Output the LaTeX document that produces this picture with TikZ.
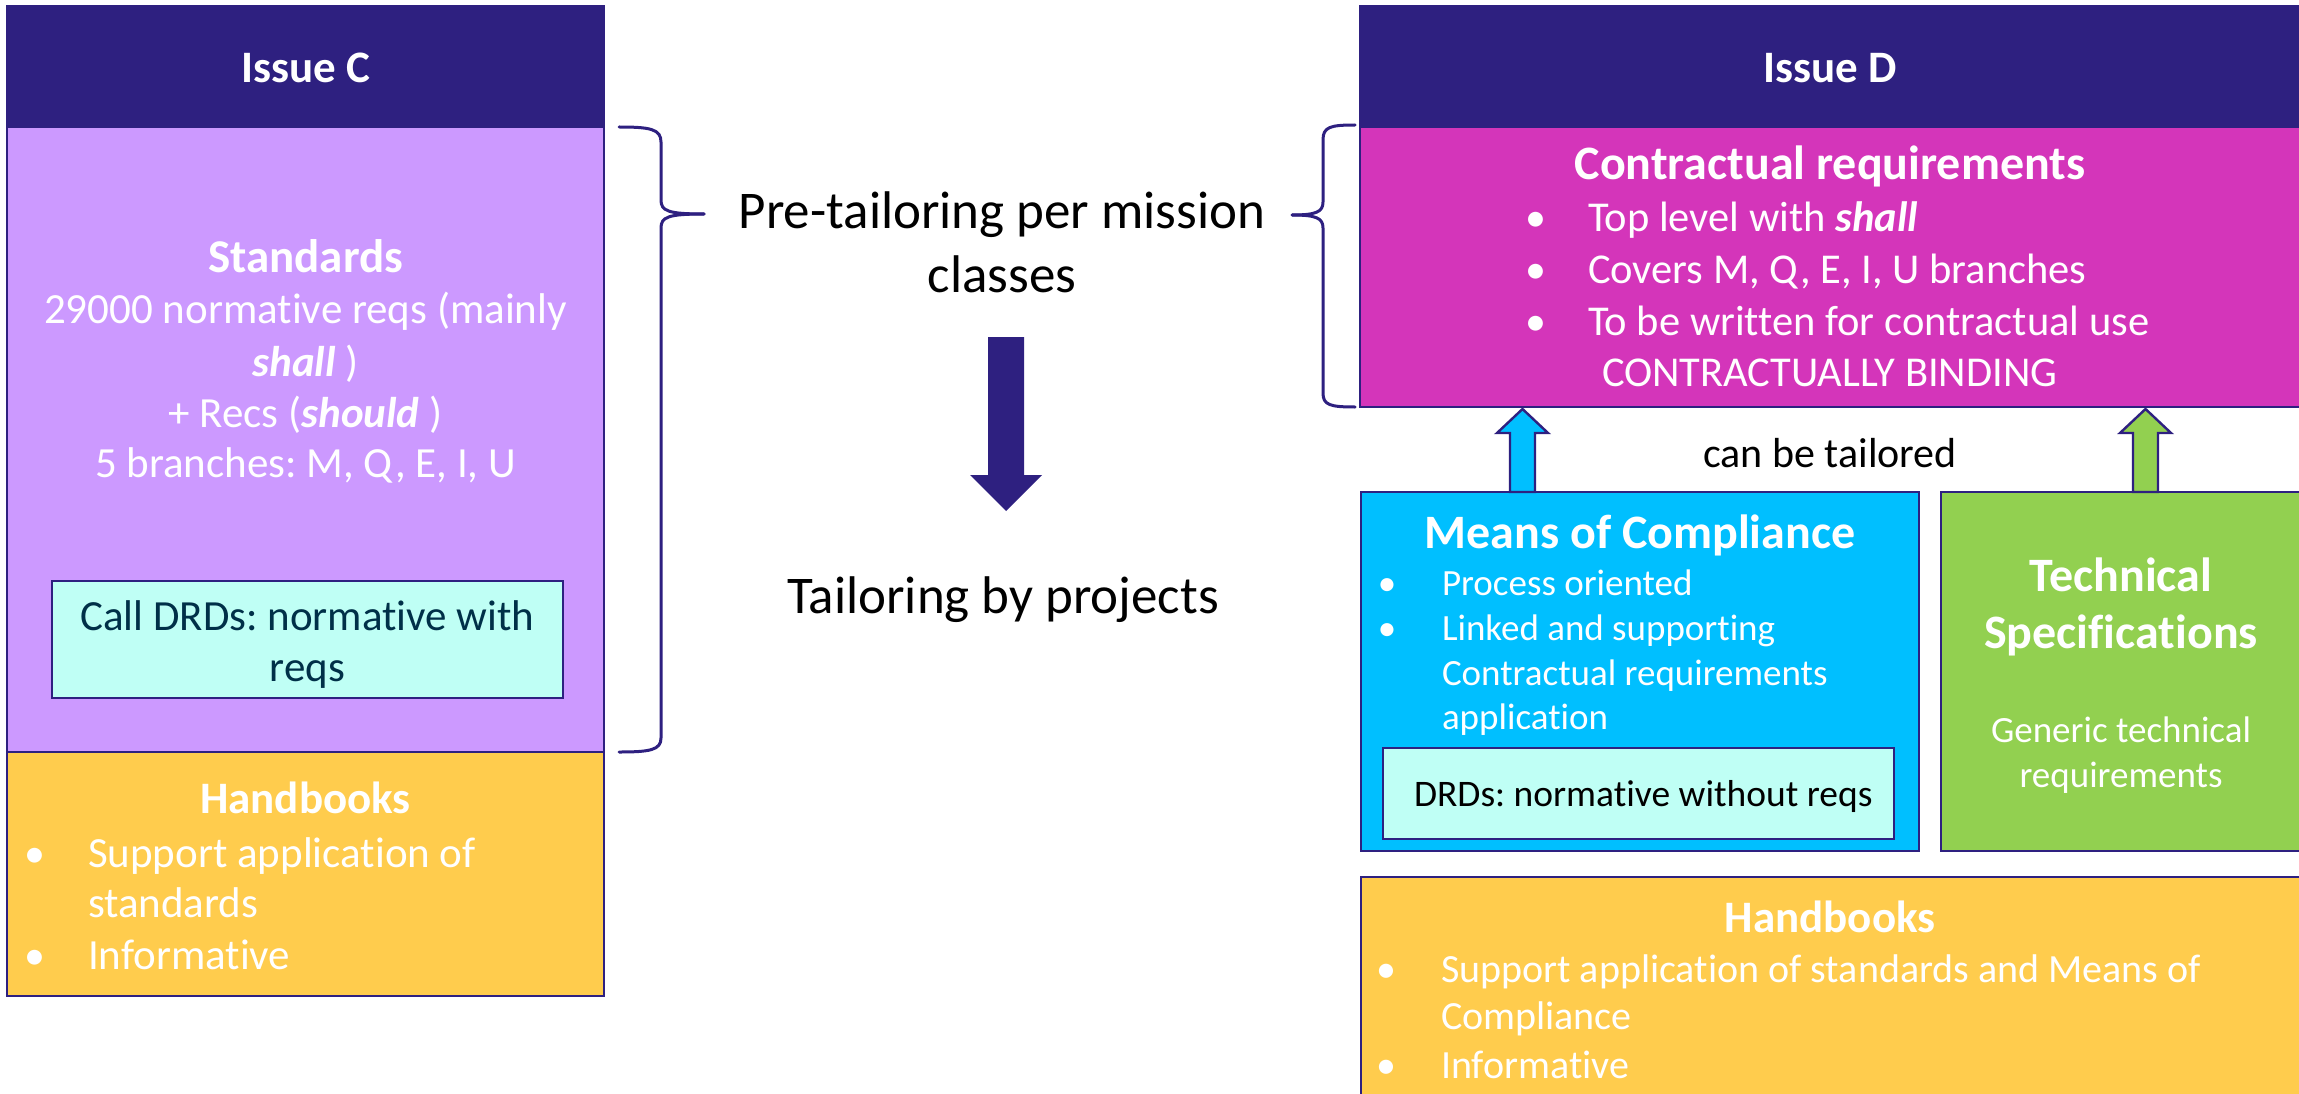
\documentclass[tikz,border=0pt]{standalone}
\usepackage{fontspec}
\setmainfont{Carlito}[Ligatures={NoCommon}]
\usetikzlibrary{calc}
\definecolor{cnavy}{RGB}{46,32,128}
\definecolor{cpurple}{RGB}{204,153,255}
\definecolor{cyellow}{RGB}{255,204,77}
\definecolor{ccyan}{RGB}{191,255,245}
\definecolor{cteal}{RGB}{0,48,72}
\definecolor{cmagenta}{RGB}{212,53,186}
\definecolor{cblue}{RGB}{0,191,255}
\definecolor{cgreen}{RGB}{146,208,80}
\newcommand\setfs[1]{\fontsize{#1}{#1}\selectfont}
\frenchspacing
\tikzset{
  box/.style={draw=cnavy, line width=2.6pt, inner sep=0pt, outer sep=0pt, anchor=north west},
  lbl/.style={inner sep=0pt, outer sep=0pt, anchor=base, text=white},
  lblw/.style={lbl, anchor=base west},
  ttl/.style={font=\bfseries\setfs{45}},
  bigttl/.style={font=\bfseries\setfs{47}},
  brace/.style={draw=cnavy, line width=3pt, line cap=round},
  blockarrow/.style={draw=cnavy, line width=2.4pt, line join=miter},
}
\begin{document}
\begin{tikzpicture}[x=1pt,y=-1pt]
\useasboundingbox (0,0) rectangle (2299,1094);
\clip (0,0) rectangle (2299,1094);
\fill[white] (0,0) rectangle (2299,1094);

% ---------- Issue C column ----------
\node[box, fill=cnavy, minimum width=597pt, minimum height=121pt] (hdrC) at (7,6) {};
\node[box, fill=cpurple, minimum width=597pt, minimum height=625pt] (stdC) at (7,127) {};
\node[box, fill=ccyan, minimum width=511pt, minimum height=117pt] (drdC) at (52,581) {};
\node[box, fill=cyellow, minimum width=597pt, minimum height=244pt] (hbC) at (7,752) {};

\node[lbl, ttl] (tC) at (305.5,83) {Issue C};
\node[lbl, bigttl] (tStd) at (305.5,272) {Standards};
\node[lbl, font=\setfs{43}] (s1) at (305.5,323) {29000 normative reqs (mainly};
\node[lbl, font=\setfs{43}] (s2) at (305.5,376) {\textbf{\textit{shall}} )};
\node[lbl, font=\setfs{43}] (s3) at (305.5,427) {+ Recs (\textbf{\textit{should}} )};
\node[lbl, font=\setfs{43}] (s4) at (305.5,477) {5 branches: M, Q, E, I, U};
\node[lbl, text=cteal, font=\setfs{43}] (c1) at (307.5,630) {Call DRDs: normative with};
\node[lbl, text=cteal, font=\setfs{43}] (c2) at (307.5,681) {reqs};
\node[lbl, ttl] (hC) at (305.5,813) {Handbooks};
\node[lbl, font=\setfs{42}] (hCb1) at (35,867) {•};
\node[lblw, font=\setfs{43}] (hCt1) at (88,867) {Support application of};
\node[lblw, font=\setfs{43}] (hCt2) at (88,917) {standards};
\node[lbl, font=\setfs{42}] (hCb2) at (35,969) {•};
\node[lblw, font=\setfs{43}] (hCt3) at (88,969) {Informative};

% ---------- middle ----------
\draw[brace] (619,127) .. controls (650,127) and (661,129) .. (661,142) -- (661,200)
  .. controls (661,211) and (668,214) .. (704,214);
\draw[brace] (704,214) .. controls (668,214) and (661,217) .. (661,228) -- (661,738)
  .. controls (661,750) and (650,752) .. (619,752);
\draw[brace] (1355,125) .. controls (1330,125) and (1323,127) .. (1323,140) -- (1323,202)
  .. controls (1323,212) and (1316,215) .. (1292,215);
\draw[brace] (1292,215) .. controls (1316,215) and (1323,218) .. (1323,228) -- (1323,393)
  .. controls (1323,405) and (1330,407) .. (1355,407);

\node[lbl, text=black, font=\setfs{53}] (pre1) at (1002,229) {Pre-tailoring per mission};
\node[lbl, text=black, font=\setfs{53}] (pre2) at (1002,292) {classes};
\node[lbl, text=black, font=\setfs{53}] (tail) at (1003,613) {Tailoring by projects};
\coordinate (dA) at (988,337);
\fill[cnavy] (dA) -- ++(36,0) -- ++(0,138) -- ++(18,0) -- ++(-36,36) -- ++(-36,-36) -- ++(18,0) -- cycle;

% ---------- Issue D column ----------
\node[box, fill=cnavy, minimum width=945pt, minimum height=121pt] (hdrD) at (1360,6) {};
\node[box, fill=cmagenta, minimum width=945pt, minimum height=280pt] (crD) at (1360,127) {};
\node[box, fill=cblue, minimum width=558pt, minimum height=359pt] (mocD) at (1361,492) {};
\node[box, fill=ccyan, minimum width=511pt, minimum height=91pt] (drdD) at (1383,748) {};
\node[box, fill=cgreen, minimum width=364pt, minimum height=359pt] (tsD) at (1941,492) {};
\node[box, fill=cyellow, minimum width=944pt, minimum height=240pt] (hbD) at (1361,877) {};

\node[lbl, ttl] (tD) at (1830,83) {Issue D};
\node[lbl, font=\bfseries\setfs{48}] (tCR) at (1830,180) {Contractual requirements};
\node[lbl, font=\setfs{42}] (cb1) at (1536,231) {•};
\node[lblw, font=\setfs{42.5}] (ct1) at (1588,231) {Top level with \textbf{\textit{shall}}};
\node[lbl, font=\setfs{42}] (cb2) at (1536,283) {•};
\node[lblw, font=\setfs{42.5}] (ct2) at (1588,283) {Covers M, Q, E, I, U branches};
\node[lbl, font=\setfs{42}] (cb3) at (1536,335) {•};
\node[lblw, font=\setfs{42.5}] (ct3) at (1588,335) {To be written for contractual use};
\node[lblw, font=\setfs{42.5}] (ct4) at (1602,386) {CONTRACTUALLY BINDING};

\node[lbl, text=black, font=\setfs{42}] (tail2) at (1830,467) {can be tailored};

% block arrows from the lower boxes up to the contractual requirements
\path (mocD.north west) ++(149,0) coordinate (bA);
\draw[blockarrow, fill=cblue] (bA) -- ++(0,-59) -- ++(-13,0) -- ++(25.5,-24) -- ++(25.5,24) -- ++(-13,0) -- ++(0,59) -- cycle;
\path (tsD.north west) ++(192,0) coordinate (gA);
\draw[blockarrow, fill=cgreen] (gA) -- ++(0,-59) -- ++(-13,0) -- ++(25.5,-24) -- ++(25.5,24) -- ++(-13,0) -- ++(0,59) -- cycle;

\node[lbl, font=\bfseries\setfs{48}] (tM) at (1640,548) {Means of Compliance};
\node[lbl, font=\setfs{37}] (mb1) at (1387,595) {•};
\node[lblw, font=\setfs{37}] (mt1) at (1442,595) {Process oriented};
\node[lbl, font=\setfs{37}] (mb2) at (1387,640) {•};
\node[lblw, font=\setfs{37}] (mt2) at (1442,640) {Linked and supporting};
\node[lblw, font=\setfs{37}] (mt3) at (1442,685) {Contractual requirements};
\node[lblw, font=\setfs{37}] (mt4) at (1442,729) {application};
\node[lblw, text=black, font=\setfs{37.5}] (dD) at (1414,806) {DRDs: normative without reqs};

\node[lbl, font=\bfseries\setfs{48}] (tT1) at (2121,591) {Technical};
\node[lbl, font=\bfseries\setfs{48}] (tT2) at (2121,648) {Specifications};
\node[lbl, font=\setfs{37}] (tT3) at (2121,742) {Generic technical};
\node[lbl, font=\setfs{37}] (tT4) at (2121,787) {requirements};

\node[lbl, ttl] (hD) at (1830,932) {Handbooks};
\node[lbl, font=\setfs{40}] (hDb1) at (1386,982) {•};
\node[lblw, font=\setfs{40}] (hDt1) at (1441,982) {Support application of standards and Means of};
\node[lblw, font=\setfs{40}] (hDt2) at (1441,1029) {Compliance};
\node[lbl, font=\setfs{40}] (hDb2) at (1386,1078) {•};
\node[lblw, font=\setfs{40}] (hDt3) at (1441,1078) {Informative};
\end{tikzpicture}
\end{document}
